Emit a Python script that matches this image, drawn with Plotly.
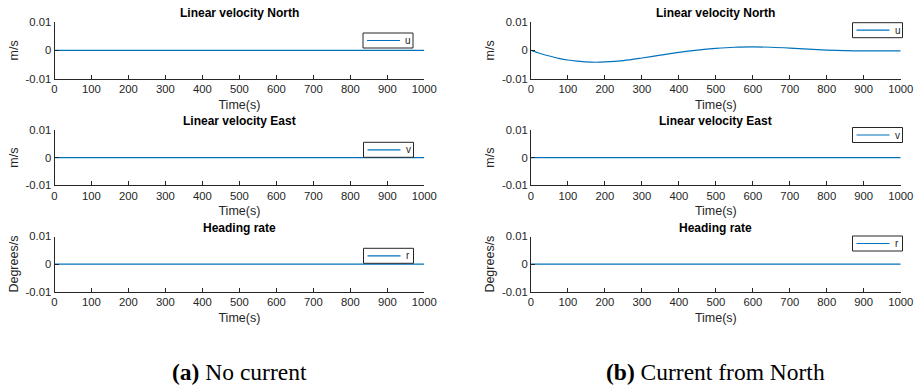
import plotly.graph_objects as go

# Simulation time samples (s)
time_s = [0, 25, 50, 75, 100, 125, 150, 175, 200, 250, 300, 350, 400,
          450, 500, 550, 600, 650, 700, 750, 800, 850, 900, 950, 1000]

# Case (a): no current -> all rates stay at zero
u_no_current = [0.0] * len(time_s)
v_no_current = [0.0] * len(time_s)
r_no_current = [0.0] * len(time_s)

# Case (b): current from North -> surge velocity oscillates and settles
u_current_north = [0.0, -0.0011, -0.0020, -0.0028, -0.0034, -0.0038, -0.0041,
                   -0.0042, -0.0041, -0.0036, -0.0027, -0.0017, -0.0007,
                   0.0001, 0.0007, 0.0011, 0.0012, 0.0011, 0.0008, 0.0004,
                   0.0001, -0.0001, -0.0002, -0.0002, -0.0002]
v_current_north = [0.0] * len(time_s)
r_current_north = [0.0] * len(time_s)

panel_titles = ["Linear velocity North", "Linear velocity East", "Heading rate"]
y_labels = ["m/s", "m/s", "Degrees/s"]
legend_names = ["u", "v", "r"]
captions = ["<b>(a)</b> No current", "<b>(b)</b> Current from North"]
x_ticks = list(range(0, 1001, 100))
y_ticks = [-0.01, 0, 0.01]
y_tick_text = ["-0.01", "0", "0.01"]

W, H = 918, 390
LINE = "#0072BD"
INK = "#262626"
FONT = "Liberation Sans, Arial, sans-serif"

# pixel geometry of the plotting areas
col_x = [(54.5, 424.3), (531.0, 900.7)]
row_y = [(22.0, 78.7), (130.0, 185.3), (236.5, 291.7)]
# top-right corner of each legend box
legend_box = [
    [(413.0, 33.0), (413.5, 142.3), (413.5, 248.3)],
    [(902.5, 22.7), (902.5, 127.5), (902.5, 236.0)],
]
LEG_W, LEG_H = 50, 15

series = [
    [u_no_current, v_no_current, r_no_current],
    [u_current_north, v_current_north, r_current_north],
]


def px(x):
    return x / W


def py(y):
    return 1 - y / H


fig = go.Figure()
layout = {}
annotations = []
shapes = []

k = 0
for c in range(2):
    for r in range(3):
        k += 1
        sfx = "" if k == 1 else str(k)
        xa, ya = "x" + sfx, "y" + sfx
        fig.add_trace(go.Scatter(
            x=time_s, y=series[c][r], mode="lines", name=legend_names[r],
            line=dict(color=LINE, width=1.2, shape="spline", smoothing=0.8),
            xaxis=xa, yaxis=ya, showlegend=False,
        ))
        x0, x1 = col_x[c]
        y0, y1 = row_y[r]
        layout["xaxis" + sfx] = dict(
            domain=[px(x0), px(x1)], anchor=ya, range=[0, 1000],
            tickvals=x_ticks, ticks="inside", ticklen=4, tickcolor=INK,
            showline=True, linecolor=INK, linewidth=1, showgrid=False,
            zeroline=False, automargin=False,
            tickfont=dict(size=11.3, color=INK, family=FONT),
            title=dict(text="Time(s)", standoff=5,
                       font=dict(size=12.5, color=INK, family=FONT)),
        )
        layout["yaxis" + sfx] = dict(
            domain=[py(y1), py(y0)], anchor=xa, range=[-0.01, 0.01],
            tickvals=y_ticks, ticktext=y_tick_text, ticks="inside", ticklen=4,
            tickcolor=INK, showline=True, linecolor=INK, linewidth=1,
            showgrid=False, zeroline=False, automargin=False,
            tickfont=dict(size=11.3, color=INK, family=FONT),
            title=dict(text=y_labels[r], standoff=4,
                       font=dict(size=12.5, color=INK, family=FONT)),
        )
        # legend box: frame, line sample and series name
        lx, ly = legend_box[c][r]
        shapes.append(dict(
            type="rect", xref="paper", yref="paper",
            x0=px(lx - LEG_W), x1=px(lx), y0=py(ly + LEG_H), y1=py(ly),
            line=dict(color=INK, width=1), fillcolor="white", layer="above",
        ))
        shapes.append(dict(
            type="line", xref="paper", yref="paper",
            x0=px(lx - LEG_W + 4), x1=px(lx - 13),
            y0=py(ly + LEG_H / 2), y1=py(ly + LEG_H / 2),
            line=dict(color=LINE, width=1.2), layer="above",
        ))
        annotations.append(dict(
            text=legend_names[r], xref="paper", yref="paper",
            x=px(lx - 10), y=py(ly + LEG_H / 2), xanchor="left",
            yanchor="middle", showarrow=False,
            font=dict(size=10, color=INK, family=FONT),
        ))
        annotations.append(dict(
            text="<b>%s</b>" % panel_titles[r], xref="paper", yref="paper",
            x=px((x0 + x1) / 2), y=py(y0 - 9),
            xanchor="center", yanchor="middle", showarrow=False,
            font=dict(size=12, color="black", family=FONT),
        ))
    x0, x1 = col_x[c]
    annotations.append(dict(
        text=captions[c], xref="paper", yref="paper",
        x=px((x0 + x1) / 2), y=py(372), xanchor="center", yanchor="middle",
        showarrow=False,
        font=dict(size=23.5, color="black",
                  family="Liberation Serif, Times New Roman, serif"),
    ))

fig.update_layout(
    width=W, height=H, margin=dict(l=0, r=0, t=0, b=0),
    paper_bgcolor="white", plot_bgcolor="white", showlegend=False,
    annotations=annotations, shapes=shapes, **layout,
)

fig.write_html("out.html")
